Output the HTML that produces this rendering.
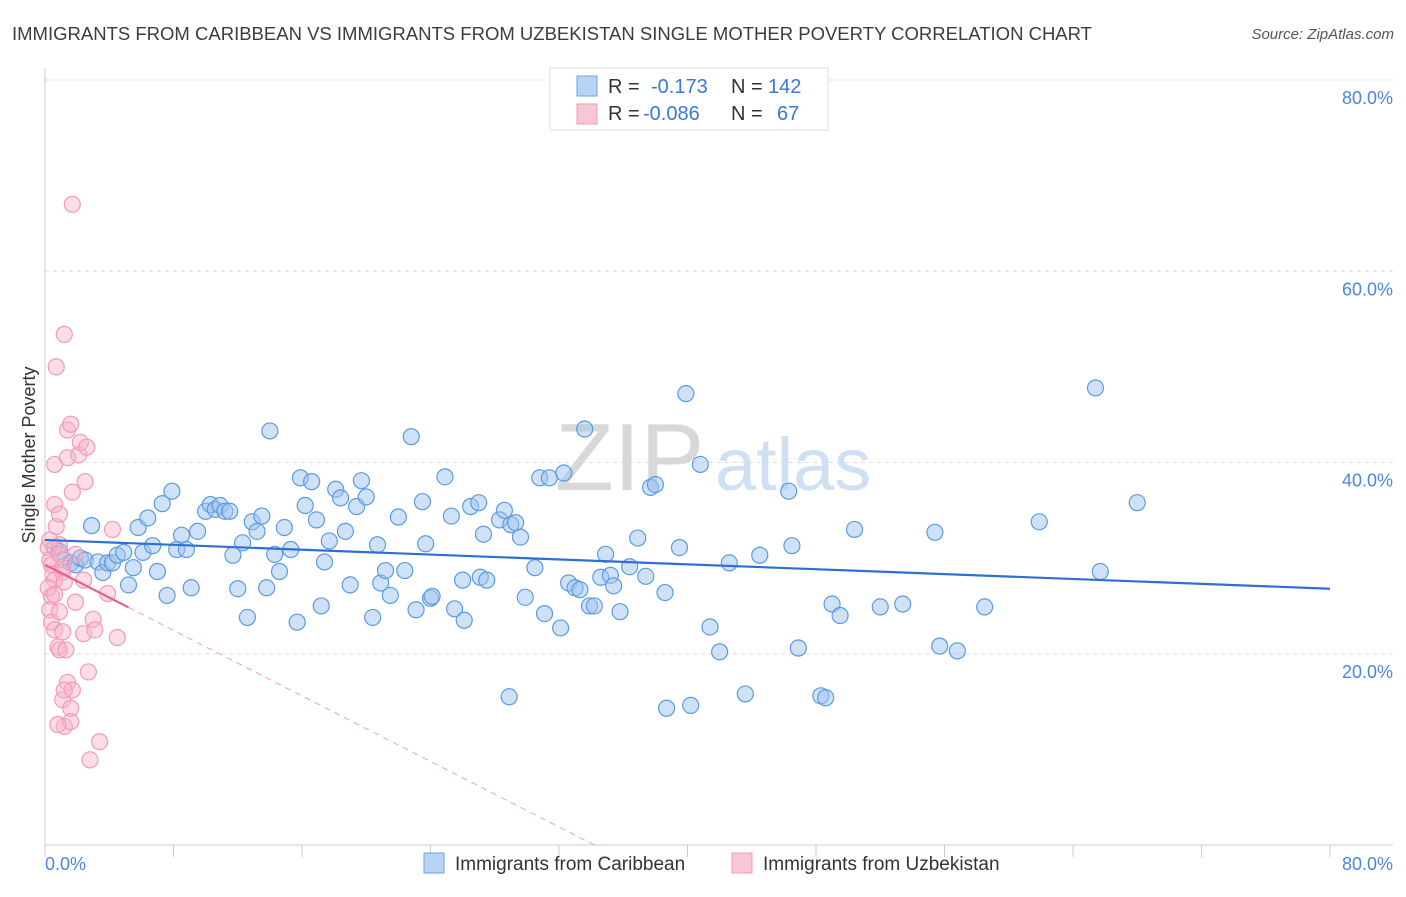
<!DOCTYPE html>
<html><head><meta charset="utf-8"><style>
body{margin:0;background:#fff;font-family:"Liberation Sans",sans-serif;}
svg text{font-family:"Liberation Sans",sans-serif;}
</style></head><body>
<svg id="chart" width="1406" height="892">
<text x="12" y="40" font-size="18" fill="#3c3c3c" textLength="1080" lengthAdjust="spacingAndGlyphs">IMMIGRANTS FROM CARIBBEAN VS IMMIGRANTS FROM UZBEKISTAN SINGLE MOTHER POVERTY CORRELATION CHART</text>
<text x="1394" y="39" font-size="15" fill="#555" text-anchor="end" font-style="italic">Source: ZipAtlas.com</text>
<g id="grid"></g>
<g id="wm">
<text x="555" y="490" font-size="96" fill="#d8d8d8" font-family="Liberation Serif">ZIP</text>
<text x="715" y="490" font-size="74" fill="#cfe0f5">atlas</text>
</g>
<g id="pts"></g>
<g id="lines"></g>
<text x="35" y="455" font-size="18" fill="#333" text-anchor="middle" transform="rotate(-90 35 455)">Single Mother Poverty</text>
<g>
<rect x="550" y="68" width="278" height="62" fill="#fff" stroke="#ddd"/>
<rect x="577" y="76" width="20" height="20" fill="#b8d4f5" stroke="#6aa3e5"/>
<rect x="577" y="104" width="20" height="20" fill="#f9c6d6" stroke="#f09ab8"/>
<text y="93" font-size="20" fill="#333"><tspan x="608">R =</tspan><tspan x="651" fill="#3a78d8">-0.173</tspan><tspan x="731">N =</tspan><tspan x="768" fill="#3a78d8">142</tspan></text>
<text y="120" font-size="20" fill="#333"><tspan x="608">R =</tspan><tspan x="643" fill="#3a78d8">-0.086</tspan><tspan x="731">N =</tspan><tspan x="777" fill="#3a78d8">67</tspan></text>
</g>
<g>
<rect x="424" y="853" width="20" height="20" fill="#b8d4f5" stroke="#6aa3e5"/>
<text x="455" y="870" font-size="19" fill="#333">Immigrants from Caribbean</text>
<rect x="732" y="853" width="20" height="20" fill="#f9c6d6" stroke="#f09ab8"/>
<text x="763" y="870" font-size="19" fill="#333">Immigrants from Uzbekistan</text>
</g>
</svg>
<script>
const yTicks=[20,40,60,80];
const yTickLabels=["20.0%","40.0%","60.0%","80.0%"];
const xTickLabels=["0.0%","80.0%"];
const blueX=[0.6,0.9,1.2,1.6,1.9,2.2,2.5,2.9,3.3,3.6,3.9,4.2,4.5,4.9,5.2,5.5,5.8,6.1,6.4,6.7,7.0,7.3,7.6,7.9,8.2,8.5,8.8,9.1,9.5,10.0,10.3,10.6,10.9,11.2,11.5,11.7,12.0,12.3,12.6,12.9,13.2,13.5,13.8,14.0,14.3,14.6,14.9,15.3,15.7,15.9,16.2,16.6,16.9,17.2,17.4,17.7,18.1,18.4,18.7,19.0,19.4,19.7,20.0,20.4,20.7,20.9,21.2,21.5,22.0,22.4,22.8,23.1,23.5,23.7,24.0,24.1,24.9,25.3,25.5,26.0,26.1,26.5,27.0,27.1,27.3,27.5,28.3,28.6,29.0,29.3,29.6,29.9,30.5,30.8,31.1,31.4,32.1,32.3,32.6,33.0,33.3,33.6,33.9,34.2,34.6,34.9,35.2,35.4,35.8,36.4,36.9,37.4,37.7,38.0,38.6,38.7,39.5,39.9,40.2,40.8,41.4,42.0,42.6,43.6,44.5,46.3,46.5,46.9,48.3,48.6,49.0,49.5,50.4,52.0,53.4,55.4,55.7,56.8,58.5,61.9,65.4,65.7,68.0,28.9];
const blueY=[31.1,30.7,29.8,29.5,29.3,30.0,29.8,33.4,29.6,28.5,29.5,29.5,30.3,30.6,27.2,29.0,33.2,30.6,34.2,31.3,28.6,35.7,26.1,37.0,30.9,32.4,30.9,26.9,32.8,34.9,35.6,35.1,35.5,34.9,34.9,30.3,26.8,31.6,23.8,33.8,32.8,34.4,26.9,43.3,30.4,28.6,33.2,30.9,23.3,38.4,35.5,38.0,34.0,25.0,29.6,31.8,37.2,36.3,32.8,27.2,35.4,38.1,36.4,23.8,31.4,27.4,28.7,26.1,34.3,28.7,42.7,24.6,35.9,31.5,25.8,26.0,38.5,34.4,24.7,27.7,23.5,35.4,35.8,28.0,32.5,27.7,34.0,35.0,33.5,33.7,32.2,25.9,29.0,38.4,24.2,38.4,22.7,38.9,27.4,26.9,26.7,43.5,25.0,25.0,28.0,30.4,28.2,27.1,24.4,29.1,32.1,28.1,37.4,37.7,26.4,14.3,31.1,47.2,14.6,39.8,22.8,20.2,29.5,15.8,30.3,37.0,31.3,20.6,15.6,15.4,25.2,24.0,33.0,24.9,25.2,32.7,20.8,20.3,24.9,33.8,47.8,28.6,35.8,15.5];
const pinkX=[0.2,0.3,0.4,0.5,0.6,0.4,0.3,0.4,0.6,0.8,0.6,0.7,0.6,0.7,0.9,0.9,1.1,1.1,1.2,1.1,0.9,1.1,1.2,1.2,1.4,1.4,1.6,1.4,1.6,1.6,1.7,1.7,1.9,1.9,1.7,2.1,2.2,2.4,2.4,2.5,2.6,2.7,2.8,3.0,3.1,3.4,3.9,4.2,4.5,0.2,0.3,0.9,1.3,0.6,0.8,0.9,1.2];
const pinkY=[31.1,29.8,29.3,28.3,27.7,26.0,24.6,23.3,22.5,20.7,35.6,33.3,39.8,50.0,34.6,31.4,29.0,28.5,27.5,22.3,20.4,15.2,12.4,53.4,43.4,40.5,44.0,17.0,14.3,12.9,67.0,36.9,30.4,25.4,16.2,40.8,42.1,22.1,27.7,38.0,41.6,18.1,8.9,23.6,22.5,10.8,26.3,33.0,21.7,26.9,31.9,30.4,20.4,26.2,12.6,24.4,16.2];
const blueTrend=[31.9,26.8];
const pinkTrend=[29.3,0];
const pinkTrendEndX=34.2, pinkSolidEndX=5.2;

const NS="http://www.w3.org/2000/svg";
const X0=45,X1=1330,Y0=845,YT=80;
const sx=v=>X0+(X1-X0)*v/80;
const sy=v=>Y0-(Y0-YT)*v/80;
function mk(tag,attrs,parent){const e=document.createElementNS(NS,tag);for(const k in attrs)e.setAttribute(k,attrs[k]);parent.appendChild(e);return e;}
const grid=document.getElementById('grid');
yTicks.forEach((t,i)=>{
 const l=mk('line',{x1:X0,x2:1393,y1:sy(t),y2:sy(t),stroke:'#ddd','stroke-dasharray':'4,4'},grid);
 
 
 const tx=mk('text',{x:1393,y:sy(t)+24,'font-size':18,fill:'#4a86de','text-anchor':'end'},grid);
 tx.textContent=yTickLabels[i];
 
 
});
const ax=mk('line',{x1:X0,x2:1393,y1:Y0,y2:Y0,stroke:'#ccc'},grid);


const ay=mk('line',{x1:X0,x2:X0,y1:68,y2:Y0,stroke:'#ccc'},grid);


for(let i=0;i<=10;i++){
 const t=mk('line',{x1:sx(i*8),x2:sx(i*8),y1:Y0,y2:Y0+12,stroke:'#ccc'},grid);
 
 
}
const xl0=mk('text',{x:45,y:870,'font-size':18,fill:'#4a86de'},grid);
xl0.textContent=xTickLabels[0];


const xl1=mk('text',{x:1393,y:870,'font-size':18,fill:'#4a86de','text-anchor':'end'},grid);
xl1.textContent=xTickLabels[1];



const pts=document.getElementById('pts');
blueX.forEach((x,i)=>{
 const c=mk('circle',{cx:sx(x),cy:sy(blueY[i]),r:8,fill:'rgba(160,196,240,0.5)',stroke:'#5b9be0','stroke-width':1.2},pts);
 
 
});
pinkX.forEach((x,i)=>{
 const c=mk('circle',{cx:sx(x),cy:sy(pinkY[i]),r:8,fill:'rgba(248,180,200,0.45)',stroke:'#f29abb','stroke-width':1.2},pts);
 
 
});
const lines=document.getElementById('lines');
const bl=mk('line',{x1:sx(0),y1:sy(blueTrend[0]),x2:sx(80),y2:sy(blueTrend[1]),stroke:'#2d6fd6','stroke-width':2.2},lines);


const pAt=x=>pinkTrend[0]+(pinkTrend[1]-pinkTrend[0])*x/pinkTrendEndX;
const ps=mk('line',{x1:sx(0),y1:sy(pAt(0)),x2:sx(pinkSolidEndX),y2:sy(pAt(pinkSolidEndX)),stroke:'#e8608e','stroke-width':2.2},lines);


const pd=mk('line',{x1:sx(pinkSolidEndX),y1:sy(pAt(pinkSolidEndX)),x2:sx(pinkTrendEndX),y2:sy(pAt(pinkTrendEndX)),stroke:'#f0a0bc','stroke-width':1,'stroke-dasharray':'6,5'},lines);


</script>
</body></html>
